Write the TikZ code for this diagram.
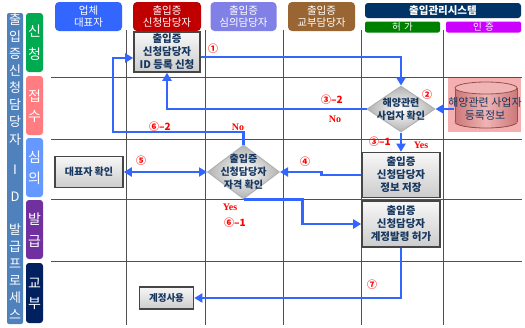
\documentclass[tikz,border=0pt]{standalone}
\usepackage{fontspec}
\setmainfont{Noto Sans CJK KR}
\newfontfamily\lserif{Liberation Serif}
\usetikzlibrary{arrows.meta,shapes.geometric,calc}
\definecolor{flowblue}{RGB}{51,102,255}
\definecolor{navytxt}{RGB}{23,55,94}
\definecolor{gridgray}{RGB}{80,80,80}
\definecolor{barblue}{RGB}{79,129,189}
\definecolor{phgreen}{RGB}{0,170,80}
\definecolor{phpink}{RGB}{255,124,128}
\definecolor{phblue}{RGB}{102,153,255}
\definecolor{phpurple}{RGB}{112,48,160}
\definecolor{phnavy}{RGB}{0,32,96}
\definecolor{hblue}{RGB}{51,102,255}
\definecolor{hred}{RGB}{192,0,0}
\definecolor{hlav}{RGB}{128,128,230}
\definecolor{hbrown}{RGB}{153,102,51}
\definecolor{hsys}{RGB}{0,51,102}
\definecolor{hgreen}{RGB}{0,128,0}
\definecolor{hmag}{RGB}{204,0,255}
\definecolor{dbbg}{RGB}{244,176,176}
\definecolor{dbdark}{RGB}{205,120,120}
\definecolor{dblight}{RGB}{240,180,180}
\definecolor{dbline}{RGB}{150,80,80}
\definecolor{lblred}{RGB}{255,0,0}
\begin{document}
\begin{tikzpicture}[x=1pt,y=-1pt,
  flow/.style={draw=flowblue,line width=2.9pt,-{Triangle[length=8pt,width=9pt]}},
  twoway/.style={draw=flowblue,line width=2.9pt,{Triangle[length=8pt,width=9pt]}-{Triangle[length=8pt,width=9pt]}},
  gridline/.style={draw=gridgray,line width=0.9pt},
  hdr/.style={rectangle,rounded corners=4pt,minimum width=67,minimum height=29,inner sep=0,text=white,align=center,font=\fontsize{10.5}{12.5}\selectfont},
  subhdr/.style={rectangle,rounded corners=2pt,minimum width=75,minimum height=11,inner sep=0,text=white,font=\fontsize{9.5}{10}\selectfont},
  procbox/.style={rectangle,draw=gray!55!black,line width=1.6pt,top color=gray!6,bottom color=gray!40,text=navytxt,align=center,inner sep=0,font=\bfseries\fontsize{10.5}{13}\selectfont},
  decbox/.style={diamond,draw=gray!60,line width=1pt,inner color=white,outer color=gray!60,inner sep=0},
  dectext/.style={text=navytxt,align=center,inner sep=0,font=\bfseries\fontsize{10}{13}\selectfont},
  bartxt/.style={text=white,inner sep=0,font=\fontsize{13}{13}\selectfont},
  phtxt/.style={text=white,inner sep=0,font=\fontsize{14}{14}\selectfont},
  lbl/.style={text=lblred,inner sep=0,font=\bfseries\fontsize{10}{10}\selectfont},
  yn/.style={text=lblred,inner sep=0,font=\lserif\bfseries\fontsize{10}{10}\selectfont}
]
\useasboundingbox (0,0) rectangle (525,327);
\fill[white] (0,0) rectangle (525,327);

% grid
\foreach \yy in {77.5,139,199,261.5} \draw[gridline] (51,\yy) -- (522,\yy);
\foreach \xx in {126,205,283,361,443} \draw[gridline] (\xx,30) -- (\xx,325);

% left bar
\fill[barblue,rounded corners=2pt] (7,13) rectangle (23,324);
\foreach \c/\yy [count=\i] in {출/20,입/37,증/54,신/71,청/88,담/105,당/122,자/140,I/170,D/197,발/230,급/247,프/264,로/281,세/298,스/315}
  \node[bartxt] (bar\i) at (15,\yy) {\c};

% phase boxes
\fill[phgreen,rounded corners=3pt] (26,13) rectangle (43,72);
\fill[phpink,rounded corners=3pt] (26,76) rectangle (43,135);
\fill[phblue,rounded corners=3pt] (26,138) rectangle (43,197);
\fill[phpurple,rounded corners=3pt] (26,200) rectangle (43,259);
\fill[phnavy,rounded corners=3pt] (26,263) rectangle (43,323);
\foreach \c/\yy [count=\i] in {신/31,청/54,접/96,수/116,심/157,의/178,발/219,급/241,교/283,부/304}
  \node[phtxt] (ph\i) at (34.5,\yy) {\c};

% headers
\node[hdr,fill=hblue] (h1) at (88.5,16.5) {업체\\대표자};
\node[hdr,fill=hred,minimum width=68] (h2) at (167,16.5) {출입증\\신청담당자};
\node[hdr,fill=hlav,minimum width=66] (h3) at (243.5,16.5) {출입증\\심의담당자};
\node[hdr,fill=hbrown] (h4) at (321.5,16.5) {출입증\\교부담당자};
\node[rectangle,rounded corners=3pt,fill=hsys,minimum width=156,minimum height=15,inner sep=0,text=white,font=\bfseries\fontsize{10.5}{10.5}\selectfont] (hs) at (443,10.5) {출입관리시스템};
\node[subhdr,fill=hgreen] (hg) at (402.5,27) {허\,\,가};
\node[subhdr,fill=hmag] (hm) at (483.5,27) {인\,\,증};

% database
\fill[dbbg] (448,77.5) rectangle (521,132);
\filldraw[draw=dbline,line width=0.8pt,left color=dbdark,right color=dbdark,middle color=dblight] (486,122) ellipse [x radius=31,y radius=6];
\fill[left color=dbdark,right color=dbdark,middle color=dblight] (455,88) rectangle (517,122);
\draw[dbline,line width=0.8pt] (455,88) -- (455,122) (517,88) -- (517,122);
\filldraw[draw=dbline,line width=0.8pt,fill=dblight] (486,88) ellipse [x radius=31,y radius=6];
\node[text=navytxt,align=center,inner sep=0,font=\fontsize{11}{13}\selectfont] (dbt) at (485,109) {해양관련 사업자\\등록정보};
\coordinate (dbw) at (454,109);

% process nodes
\node[procbox,minimum width=66,minimum height=40] (A) at (167,52) {출입증\\신청담당자\\ID 등록 신청};
\node[decbox,minimum width=68,minimum height=46] (B) at (401,109) {};
\node[dectext] (Bt) at (401,109.5) {해양관련\\사업자 확인};
\node[procbox,minimum width=78,minimum height=45] (C) at (401,175) {출입증\\신청담당자\\정보 저장};
\node[procbox,minimum width=78,minimum height=46] (D) at (401,224) {출입증\\신청담당자\\계정발령 허가};
\node[decbox,minimum width=72,minimum height=54] (E) at (243.5,172) {};
\node[dectext] (Et) at (243.5,172) {출입증\\신청담당자\\자격 확인};
\node[procbox,minimum width=68,minimum height=31,font=\bfseries\fontsize{10}{12}\selectfont] (F) at (89,172) {대표자 확인};
\node[procbox,minimum width=54,minimum height=22,font=\bfseries\fontsize{9.5}{11}\selectfont] (G) at (166.5,298) {계정사용};

% connectors
\coordinate (k1) at (113,132);
\draw[flow] ($(A.east)+(0,5)$) -| (B.north);
\draw[flow] (B.west) -| (A.south);
\draw[flow] (dbw) -- (B.east);
\draw[flow] (B.south) -- (C.north);
\draw[flow] (C.west) -- ++(-40,0) |- (E.east);
\draw[twoway] (F.east) -- (E.west);
\draw[flow] (E.north) |- (k1) |- ($(A.west)+(0,6)$);
\draw[flow] (E.south) -| ($(D.west)+(-59,0)$) -- (D.west);
\draw[flow] (D.south) |- (G.east);

% labels
\node[lbl] (l1) at (213,49) {①};
\node[lbl] (l2) at (427,95) {②};
\node[lbl] (l32) at (332,100) {③–2};
\node[yn] (no1) at (335,119) {No};
\node[lbl] (l31) at (380,142) {③–1};
\node[yn] (yes1) at (421,145) {Yes};
\node[lbl] (l4) at (305,162) {④};
\node[lbl] (l5) at (141,161) {⑤};
\node[lbl] (l62) at (160,127) {⑥–2};
\node[yn] (no2) at (238,127) {No};
\node[yn] (yes2) at (230,207) {Yes};
\node[lbl] (l61) at (235,223) {⑥–1};
\node[lbl] (l7) at (372,285) {⑦};
\end{tikzpicture}
\end{document}
